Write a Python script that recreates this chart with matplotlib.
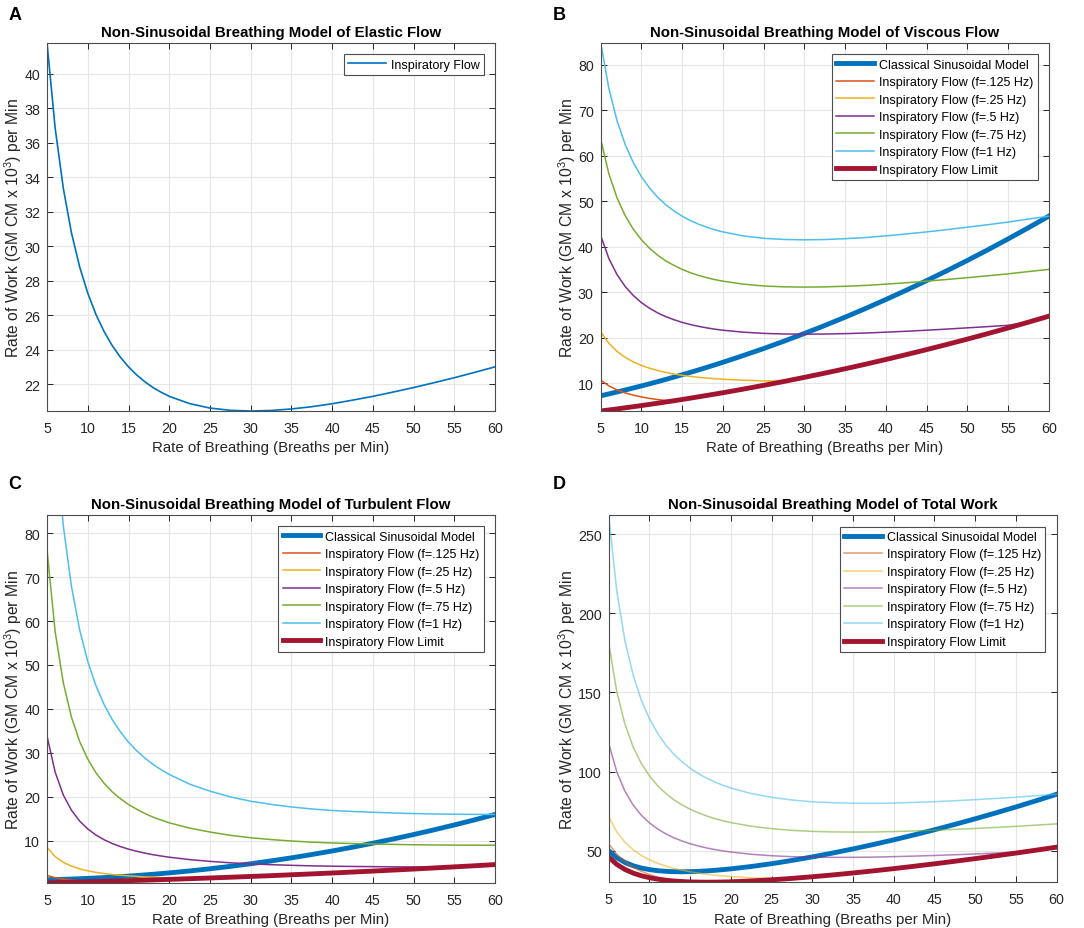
import matplotlib
matplotlib.use('Agg')
import matplotlib.pyplot as plt

plt.rcParams['font.family'] = ['Liberation Sans', 'DejaVu Sans']
plt.rcParams['mathtext.fontset'] = 'custom'
plt.rcParams['mathtext.rm'] = 'Liberation Sans'
plt.rcParams['mathtext.it'] = 'Liberation Sans:italic'

# Data (breaths per min on x, rate of work on y)
breaths = [5, 6, 7, 8, 9, 10, 11, 12, 13, 14, 15, 16, 17, 18, 19, 20, 22.5, 25, 27.5, 30,
           32.5, 35, 37.5, 40, 42.5, 45, 47.5, 50, 52.5, 55, 57.5, 60]

# A - elastic flow
elastic = [41.78, 36.83, 33.35, 30.77, 28.81, 27.28, 26.05, 25.06, 24.24, 23.57, 23.01, 22.54,
           22.15, 21.81, 21.54, 21.30, 20.88, 20.62, 20.49, 20.45, 20.48, 20.57, 20.70, 20.87,
           21.08, 21.30, 21.55, 21.81, 22.09, 22.38, 22.69, 23.01]

# B - viscous flow
visc_classical = [7.20, 7.61, 8.04, 8.47, 8.92, 9.37, 9.84, 10.32, 10.81, 11.32, 11.83, 12.35,
                  12.89, 13.44, 14.00, 14.57, 16.05, 17.59, 19.21, 20.90, 22.66, 24.49, 26.39,
                  28.37, 30.41, 32.52, 34.71, 36.96, 39.29, 41.69, 44.16, 46.70]
visc_f125 = [10.62, 9.37, 8.48, 7.83, 7.33, 6.94, 6.62, 6.37, 6.16, 6.11, 6.39, 6.68, 6.97,
             7.27, 7.57, 7.87, 8.67, 9.49, 10.35, 11.25, 12.18, 13.14, 14.14, 15.18, 16.25,
             17.35, 18.49, 19.66, 20.87, 22.11, 23.39, 24.70]
visc_f25 = [21.25, 18.73, 16.96, 15.65, 14.65, 13.87, 13.25, 12.74, 12.32, 11.99, 11.70, 11.46,
            11.26, 11.10, 10.95, 10.84, 10.62, 10.48, 10.42, 11.25, 12.18, 13.14, 14.14, 15.18,
            16.25, 17.35, 18.49, 19.66, 20.87, 22.11, 23.39, 24.70]
visc_f5 = [42.39, 37.37, 33.84, 31.23, 29.24, 27.68, 26.44, 25.42, 24.59, 23.92, 23.34, 22.87,
           22.47, 22.14, 21.85, 21.62, 21.19, 20.92, 20.79, 20.75, 20.78, 20.87, 21.00, 21.19,
           21.39, 21.62, 21.87, 22.14, 22.41, 22.70, 23.39, 24.70]
visc_f75 = [63.54, 56.01, 50.72, 46.81, 43.82, 41.49, 39.62, 38.10, 36.85, 35.86, 34.99, 34.27,
            33.68, 33.18, 32.75, 32.41, 31.75, 31.35, 31.16, 31.10, 31.15, 31.29, 31.47, 31.75,
            32.06, 32.41, 32.78, 33.18, 33.59, 34.02, 34.52, 34.99]
visc_f1 = [84.78, 74.74, 67.69, 62.46, 58.47, 55.36, 52.87, 50.84, 49.18, 47.85, 46.69, 45.73,
           44.94, 44.28, 43.70, 43.24, 42.37, 41.83, 41.58, 41.50, 41.56, 41.75, 42.00, 42.37,
           42.79, 43.24, 43.74, 44.28, 44.82, 45.40, 46.07, 46.69]
visc_limit = [3.85, 4.08, 4.31, 4.56, 4.80, 5.05, 5.31, 5.57, 5.84, 6.11, 6.39, 6.68, 6.97,
              7.27, 7.57, 7.87, 8.67, 9.49, 10.35, 11.25, 12.18, 13.14, 14.14, 15.18, 16.25,
              17.35, 18.49, 19.66, 20.87, 22.11, 23.39, 24.70]

# C - turbulent flow
turb_classical = [1.15, 1.20, 1.25, 1.31, 1.38, 1.46, 1.55, 1.64, 1.75, 1.86, 1.98, 2.11, 2.25,
                  2.39, 2.55, 2.71, 3.15, 3.64, 4.19, 4.78, 5.43, 6.13, 6.89, 7.69, 8.55, 9.46,
                  10.42, 11.43, 12.50, 13.61, 14.78, 16.00]
turb_f125 = [2.11, 1.60, 1.28, 1.06, 0.91, 0.79, 0.73, 0.78, 0.83, 0.89, 0.94, 1.00, 1.05,
             1.11, 1.17, 1.23, 1.39, 1.55, 1.72, 1.90, 2.08, 2.28, 2.48, 2.68, 2.90, 3.12,
             3.35, 3.58, 3.83, 4.08, 4.33, 4.60]
turb_f25 = [8.46, 6.39, 5.10, 4.24, 3.63, 3.18, 2.83, 2.56, 2.35, 2.18, 2.03, 1.91, 1.80,
            1.71, 1.64, 1.57, 1.43, 1.55, 1.72, 1.90, 2.08, 2.28, 2.48, 2.68, 2.90, 3.12,
            3.35, 3.58, 3.83, 4.08, 4.33, 4.60]
turb_f5 = [33.8, 25.6, 20.4, 16.95, 14.5, 12.7, 11.33, 10.25, 9.40, 8.7, 8.11, 7.63, 7.21,
           6.85, 6.55, 6.28, 5.73, 5.33, 5.0, 4.75, 4.58, 4.43, 4.31, 4.23, 4.17, 4.13,
           4.08, 4.05, 4.03, 4.08, 4.33, 4.60]
turb_f75 = [76.1, 57.5, 45.9, 38.1, 32.6, 28.6, 25.49, 23.1, 21.14, 19.6, 18.25, 17.2, 16.22,
            15.4, 14.73, 14.1, 12.9, 12.0, 11.25, 10.7, 10.29, 9.96, 9.70, 9.51, 9.38, 9.28,
            9.19, 9.11, 9.06, 9.03, 9.01, 9.0]
turb_f1 = [135.3, 102.2, 81.6, 67.8, 58.0, 50.8, 45.31, 41.0, 37.58, 34.8, 32.44, 30.5, 28.84,
           27.4, 26.19, 25.1, 22.9, 21.3, 20.0, 19.0, 18.3, 17.7, 17.25, 16.9, 16.68, 16.5,
           16.33, 16.2, 16.11, 16.05, 16.02, 16.0]
turb_limit = [0.45, 0.49, 0.54, 0.59, 0.63, 0.68, 0.73, 0.78, 0.83, 0.89, 0.94, 1.00, 1.05,
              1.11, 1.17, 1.23, 1.39, 1.55, 1.72, 1.90, 2.08, 2.28, 2.48, 2.68, 2.90, 3.12,
              3.35, 3.58, 3.83, 4.08, 4.33, 4.60]

# D - total work
total_classical = [50.13, 45.64, 42.64, 40.55, 39.11, 38.11, 37.44, 37.02, 36.80, 36.75, 36.82,
                   37.00, 37.29, 37.64, 38.09, 38.58, 40.08, 41.85, 43.89, 46.13, 48.57, 51.19,
                   53.98, 56.93, 60.04, 63.28, 66.68, 70.20, 73.88, 77.68, 81.63, 85.71]
total_f125 = [54.51, 47.80, 43.11, 39.66, 37.05, 35.01, 33.40, 32.21, 31.23, 30.57, 30.34, 30.22,
              30.17, 30.19, 30.28, 30.40, 30.94, 31.66, 32.56, 33.60, 34.74, 35.99, 37.32, 38.73,
              40.23, 41.77, 43.39, 45.05, 46.79, 48.57, 50.41, 52.31]
total_f25 = [71.49, 61.95, 55.41, 50.66, 47.09, 44.33, 42.13, 40.36, 38.91, 37.74, 36.74, 35.91,
             35.21, 34.62, 34.13, 33.71, 32.93, 32.65, 32.63, 33.60, 34.74, 35.99, 37.32, 38.73,
             40.23, 41.77, 43.39, 45.05, 46.79, 48.57, 50.41, 52.31]
total_f5 = [117.97, 99.80, 87.59, 78.95, 72.55, 67.66, 63.82, 60.73, 58.23, 56.19, 54.46, 53.04,
            51.83, 50.80, 49.94, 49.20, 47.80, 46.87, 46.28, 45.95, 45.84, 45.87, 46.01, 46.29,
            46.64, 47.05, 47.50, 48.00, 48.53, 49.16, 50.41, 52.31]
total_f75 = [181.42, 150.34, 129.97, 115.68, 105.23, 97.37, 91.16, 86.26, 82.23, 79.03, 76.25,
             74.01, 72.05, 70.39, 69.02, 67.81, 65.53, 63.97, 62.90, 62.25, 61.92, 61.82, 61.87,
             62.13, 62.52, 62.99, 63.52, 64.10, 64.74, 65.43, 66.22, 67.00]
total_f1 = [261.86, 213.77, 182.64, 161.03, 145.28, 133.44, 124.23, 116.90, 111.00, 106.22,
            102.14, 98.77, 95.93, 93.49, 91.43, 89.64, 86.15, 83.75, 82.07, 80.95, 80.34, 80.02,
            79.95, 80.14, 80.55, 81.04, 81.62, 82.29, 83.02, 83.83, 84.78, 85.70]
total_limit = [46.08, 41.40, 38.20, 35.92, 34.24, 33.01, 32.09, 31.41, 30.91, 30.57, 30.34, 30.22,
               30.17, 30.19, 30.28, 30.40, 30.94, 31.66, 32.56, 33.60, 34.74, 35.99, 37.32, 38.73,
               40.23, 41.77, 43.39, 45.05, 46.79, 48.57, 50.41, 52.31]

flow_labels = ['Inspiratory Flow (f=.125 Hz)', 'Inspiratory Flow (f=.25 Hz)',
               'Inspiratory Flow (f=.5 Hz)', 'Inspiratory Flow (f=.75 Hz)',
               'Inspiratory Flow (f=1 Hz)']
flow_colors = ['#D95319', '#EDB120', '#7E2F8E', '#77AC30', '#4DBEEE']
blue = '#0072BD'
dark_red = '#A2142F'

x_label = 'Rate of Breathing (Breaths per Min)'
y_label = r'Rate of Work (GM CM x 10$^{3}$) per Min'


def style_axes(ax, title, ylim, yticks):
    ax.set_xlim(5, 60)
    ax.set_ylim(*ylim)
    ax.set_xticks(range(5, 61, 5))
    ax.set_yticks(yticks)
    ax.grid(True, color='#e6e6e6', linewidth=0.8)
    ax.set_axisbelow(True)
    ax.tick_params(direction='in', length=4, width=0.7, top=True, right=True,
                   labelsize=10.3, colors='#262626', pad=5)
    ax.tick_params(axis='x', pad=7)
    for s in ax.spines.values():
        s.set_color('#4d4d4d')
        s.set_linewidth(0.8)
    ax.set_title(title, fontsize=10.8, fontweight='bold', pad=5)
    ax.set_xlabel(x_label, fontsize=10.8, color='#262626', labelpad=4)
    ax.set_ylabel(y_label, fontsize=11.3, color='#262626', labelpad=0)


def add_legend(ax):
    leg = ax.legend(loc='upper right', fontsize=9, handlelength=3.0, labelspacing=0.44,
                    borderpad=0.35, borderaxespad=0.9, handletextpad=0.4,
                    fancybox=False, framealpha=1, edgecolor='#4d4d4d')
    leg.get_frame().set_linewidth(0.8)


def flow_panel(ax, classical, flows, limit, alpha=1.0):
    ax.plot(breaths, classical, color=blue, lw=3.5, label='Classical Sinusoidal Model')
    for vals, col, lab in zip(flows, flow_colors, flow_labels):
        ax.plot(breaths, vals, color=col, lw=1.1, alpha=alpha, label=lab)
    ax.plot(breaths, limit, color=dark_red, lw=3.5, label='Inspiratory Flow Limit')
    add_legend(ax)


fig = plt.figure(figsize=(10.84, 9.29), dpi=100)
ax_a = fig.add_axes([0.0434, 0.5565, 0.4133, 0.3961])
ax_b = fig.add_axes([0.5542, 0.5565, 0.4133, 0.3961])
ax_c = fig.add_axes([0.0434, 0.0484, 0.4133, 0.3961])
ax_d = fig.add_axes([0.5615, 0.0492, 0.4133, 0.3950])

# A
ax_a.plot(breaths, elastic, color=blue, lw=1.2, label='Inspiratory Flow')
add_legend(ax_a)
style_axes(ax_a, 'Non-Sinusoidal Breathing Model of Elastic Flow', (20.45, 41.78), range(22, 41, 2))

# B
flow_panel(ax_b, visc_classical, [visc_f125, visc_f25, visc_f5, visc_f75, visc_f1], visc_limit)
style_axes(ax_b, 'Non-Sinusoidal Breathing Model of Viscous Flow', (3.85, 84.78), range(10, 81, 10))

# C
flow_panel(ax_c, turb_classical, [turb_f125, turb_f25, turb_f5, turb_f75, turb_f1], turb_limit)
style_axes(ax_c, 'Non-Sinusoidal Breathing Model of Turbulent Flow', (0.4, 84.1), range(10, 81, 10))

# D
flow_panel(ax_d, total_classical, [total_f125, total_f25, total_f5, total_f75, total_f1],
           total_limit, alpha=0.6)
style_axes(ax_d, 'Non-Sinusoidal Breathing Model of Total Work', (30.1, 261.86), range(50, 251, 50))

for letter, xf, yf in [('A', 0.008, 0.993), ('B', 0.510, 0.993),
                       ('C', 0.008, 0.488), ('D', 0.510, 0.488)]:
    fig.text(xf, yf, letter, fontsize=13, fontweight='bold', va='top', ha='left')

fig.savefig('out.png', dpi=100)
